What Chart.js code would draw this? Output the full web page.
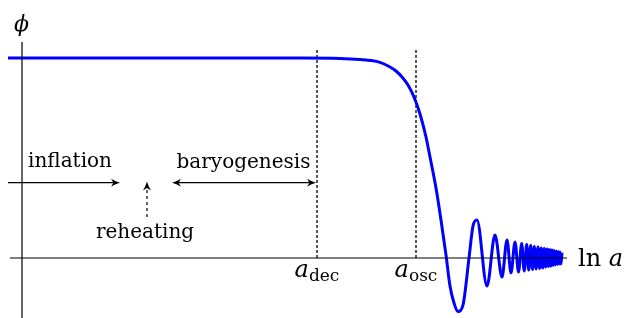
<!DOCTYPE html>
<html>
<head>
<meta charset="utf-8">
<script src="https://cdn.jsdelivr.net/npm/chart.js@4"></script>
<style>
  html, body { margin: 0; padding: 0; background: #fff; }
  #wrap { width: 625px; height: 318px; position: relative; }
</style>
</head>
<body>
<div id="wrap"><canvas id="phiChart"></canvas></div>
<script>
// field value against ln a (plateau normalised to 1)
const lnA = [-0.14, 1.28, 2.78, 3.18, 3.38, 3.48, 3.58, 3.68, 3.74, 3.80, 3.86, 3.92, 3.98, 4.04, 4.08, 4.14, 4.19, 4.24, 4.28, 4.32, 4.36,
  4.41, 4.47, 4.51, 4.55, 4.65, 4.73, 4.80, 4.85, 4.89, 4.93, 4.965, 4.997, 5.022,
  5.047, 5.067, 5.087, 5.105, 5.123, 5.141, 5.16, 5.176, 5.192, 5.207,
  5.222, 5.236, 5.25, 5.263, 5.276, 5.288, 5.30, 5.311, 5.322, 5.333,
  5.343, 5.353, 5.363, 5.372, 5.381, 5.39, 5.40];
const phi = [1.0, 1.0, 1.0, 0.998, 0.993, 0.988, 0.978, 0.955, 0.935, 0.905, 0.865, 0.805, 0.72, 0.605, 0.505, 0.35, 0.19, 0.015, -0.14, -0.225, -0.2675,
  -0.235, 0, 0.16, 0.19, -0.14, 0.115, -0.095, 0.09, -0.075, 0.08, -0.07, 0.072, -0.065,
  0.067, -0.06, 0.062, -0.057, 0.057, -0.055, 0.055, -0.052, 0.05, -0.05,
  0.047, -0.045, 0.045, -0.042, 0.042, -0.04, 0.04, -0.037, 0.037, -0.035,
  0.035, -0.032, 0.032, -0.03, 0.03, -0.03, 0.027];

// epochs marked on the ln a axis
const epochNames = ['dec', 'osc'];
const epochLnA = [2.95, 3.94];

// eras shown as arrows
const eraNames = ['inflation', 'baryogenesis'];
const eraStart = [-0.14, 1.50];
const eraEnd = [0.98, 2.94];
const reheatLnA = 1.25;

const SERIF = '"DejaVu Serif", serif';
const arrowY = 0.3765;

function seg(x0, y0, x1, y1, extra) {
  return Object.assign({
    data: [{x: x0, y: y0}, {x: x1, y: y1}],
    borderColor: '#000',
    borderWidth: 1.2,
    pointRadius: 0,
    tension: 0
  }, extra || {});
}

function arrowHead(ctx, x, y, angle) {
  ctx.save();
  ctx.translate(x, y);
  ctx.rotate(angle);
  ctx.beginPath();
  ctx.moveTo(0, 0);
  ctx.quadraticCurveTo(-4.5, -1.2, -9, -4);
  ctx.lineTo(-6.5, 0);
  ctx.lineTo(-9, 4);
  ctx.quadraticCurveTo(-4.5, 1.2, 0, 0);
  ctx.fillStyle = '#000';
  ctx.fill();
  ctx.restore();
}

const labelsPlugin = {
  id: 'labels',
  afterDatasetsDraw(chart) {
    const ctx = chart.ctx;
    const xs = chart.scales.x, ys = chart.scales.y;
    const ay = ys.getPixelForValue(arrowY);

    // arrow heads
    arrowHead(ctx, xs.getPixelForValue(eraEnd[0]), ay, 0);
    arrowHead(ctx, xs.getPixelForValue(eraEnd[1]), ay, 0);
    arrowHead(ctx, xs.getPixelForValue(eraStart[1]), ay, Math.PI);
    arrowHead(ctx, xs.getPixelForValue(reheatLnA), ys.getPixelForValue(0.382), -Math.PI / 2);

    ctx.save();
    ctx.fillStyle = '#000';
    ctx.textBaseline = 'alphabetic';
    ctx.textAlign = 'center';
    ctx.font = '20px ' + SERIF;
    ctx.fillText('inflation', xs.getPixelForValue(0.48), ys.getPixelForValue(0.455));
    ctx.fillText('baryogenesis', xs.getPixelForValue(2.215), ys.getPixelForValue(0.45));
    ctx.fillText('reheating', xs.getPixelForValue(1.23), ys.getPixelForValue(0.1));

    // phi on the vertical axis
    ctx.font = 'italic 22px ' + SERIF;
    ctx.fillText('\u03D5', xs.getPixelForValue(-0.005), ys.getPixelForValue(1.135));

    // ln a on the horizontal axis
    ctx.textAlign = 'left';
    let x = xs.getPixelForValue(5.56);
    const base = ys.getPixelForValue(-0.04);
    ctx.font = '24px ' + SERIF;
    ctx.fillText('ln', x, base);
    x += ctx.measureText('ln ').width;
    ctx.font = 'italic 24px ' + SERIF;
    ctx.fillText('a', x, base);

    // a_dec, a_osc under the dotted lines
    epochNames.forEach((name, i) => {
      ctx.font = 'italic 24px ' + SERIF;
      const wa = ctx.measureText('a').width;
      ctx.font = '17px ' + SERIF;
      const ws = ctx.measureText(name).width;
      let left = xs.getPixelForValue(epochLnA[i]) - (wa + ws) / 2;
      ctx.font = 'italic 24px ' + SERIF;
      ctx.fillText('a', left, ys.getPixelForValue(-0.095));
      ctx.font = '17px ' + SERIF;
      ctx.fillText(name, left + wa, ys.getPixelForValue(-0.115));
    });
    ctx.restore();
  }
};

const datasets = [
  // axes (on top)
  seg(-0.12, 0, 5.45, 0),
  seg(0, -0.30, 0, 1.08),
  // era arrows
  seg(eraStart[0], arrowY, eraEnd[0] - 0.03, arrowY),
  seg(eraStart[1] + 0.03, arrowY, eraEnd[1] - 0.03, arrowY),
  seg(reheatLnA, 0.205, reheatLnA, 0.37, {borderDash: [3, 3]}),
  // the field
  {
    data: lnA.map((v, i) => ({x: v, y: phi[i]})),
    borderColor: '#0000ff',
    borderWidth: 3,
    pointRadius: 0,
    cubicInterpolationMode: 'monotone'
  },
  // epoch markers
  ...epochLnA.map(v => seg(v, 0, v, 1.05, {borderDash: [3, 2], borderWidth: 1.3}))
];

new Chart(document.getElementById('phiChart'), {
  type: 'line',
  data: { datasets },
  options: {
    responsive: true,
    maintainAspectRatio: false,
    animation: false,
    events: [],
    layout: { padding: 0 },
    plugins: { legend: { display: false }, tooltip: { enabled: false } },
    scales: {
      x: { type: 'linear', min: -0.22, max: 6.03, display: false },
      y: { type: 'linear', min: -0.30, max: 1.29, display: false }
    }
  },
  plugins: [labelsPlugin]
});
</script>
</body>
</html>
